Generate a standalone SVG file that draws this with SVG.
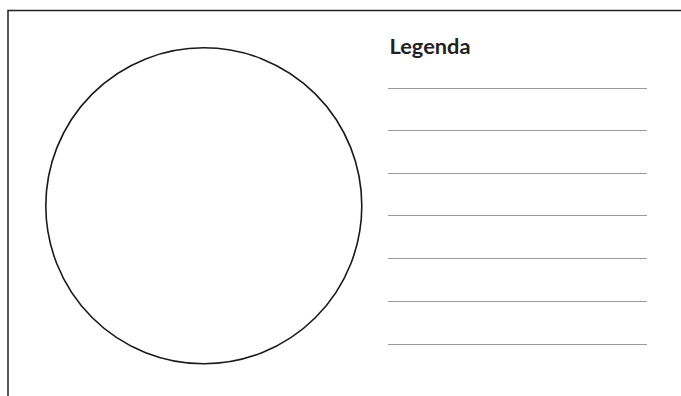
<svg xmlns="http://www.w3.org/2000/svg" width="681" height="396" viewBox="0 0 681 396">
<style>
.frame{fill:none;stroke:#222;stroke-width:1.5}
.rule{stroke:#999;stroke-width:1.2}
.title{font-family:Lato,"Open Sans",sans-serif;font-weight:bold;font-size:21.5px;fill:#222}
</style>
<rect width="681" height="396" fill="#fff"/>
<g id="frame"><path class="frame" d="M8,396 V10.5 H681"/></g>
<g id="circle"><circle cx="203.8" cy="205.8" r="158" fill="none" stroke="#1a1a1a" stroke-width="1.6"/></g>
<g id="legend">
<text class="title" x="389.5" y="54" textLength="81" lengthAdjust="spacingAndGlyphs">Legenda</text>
<line class="rule" x1="388" y1="88.5" x2="647" y2="88.5"/>
<line class="rule" x1="388" y1="130.5" x2="647" y2="130.5"/>
<line class="rule" x1="388" y1="173.5" x2="647" y2="173.5"/>
<line class="rule" x1="388" y1="215.5" x2="647" y2="215.5"/>
<line class="rule" x1="388" y1="258.5" x2="647" y2="258.5"/>
<line class="rule" x1="388" y1="301.5" x2="647" y2="301.5"/>
<line class="rule" x1="388" y1="344.5" x2="647" y2="344.5"/>
</g>
</svg>
